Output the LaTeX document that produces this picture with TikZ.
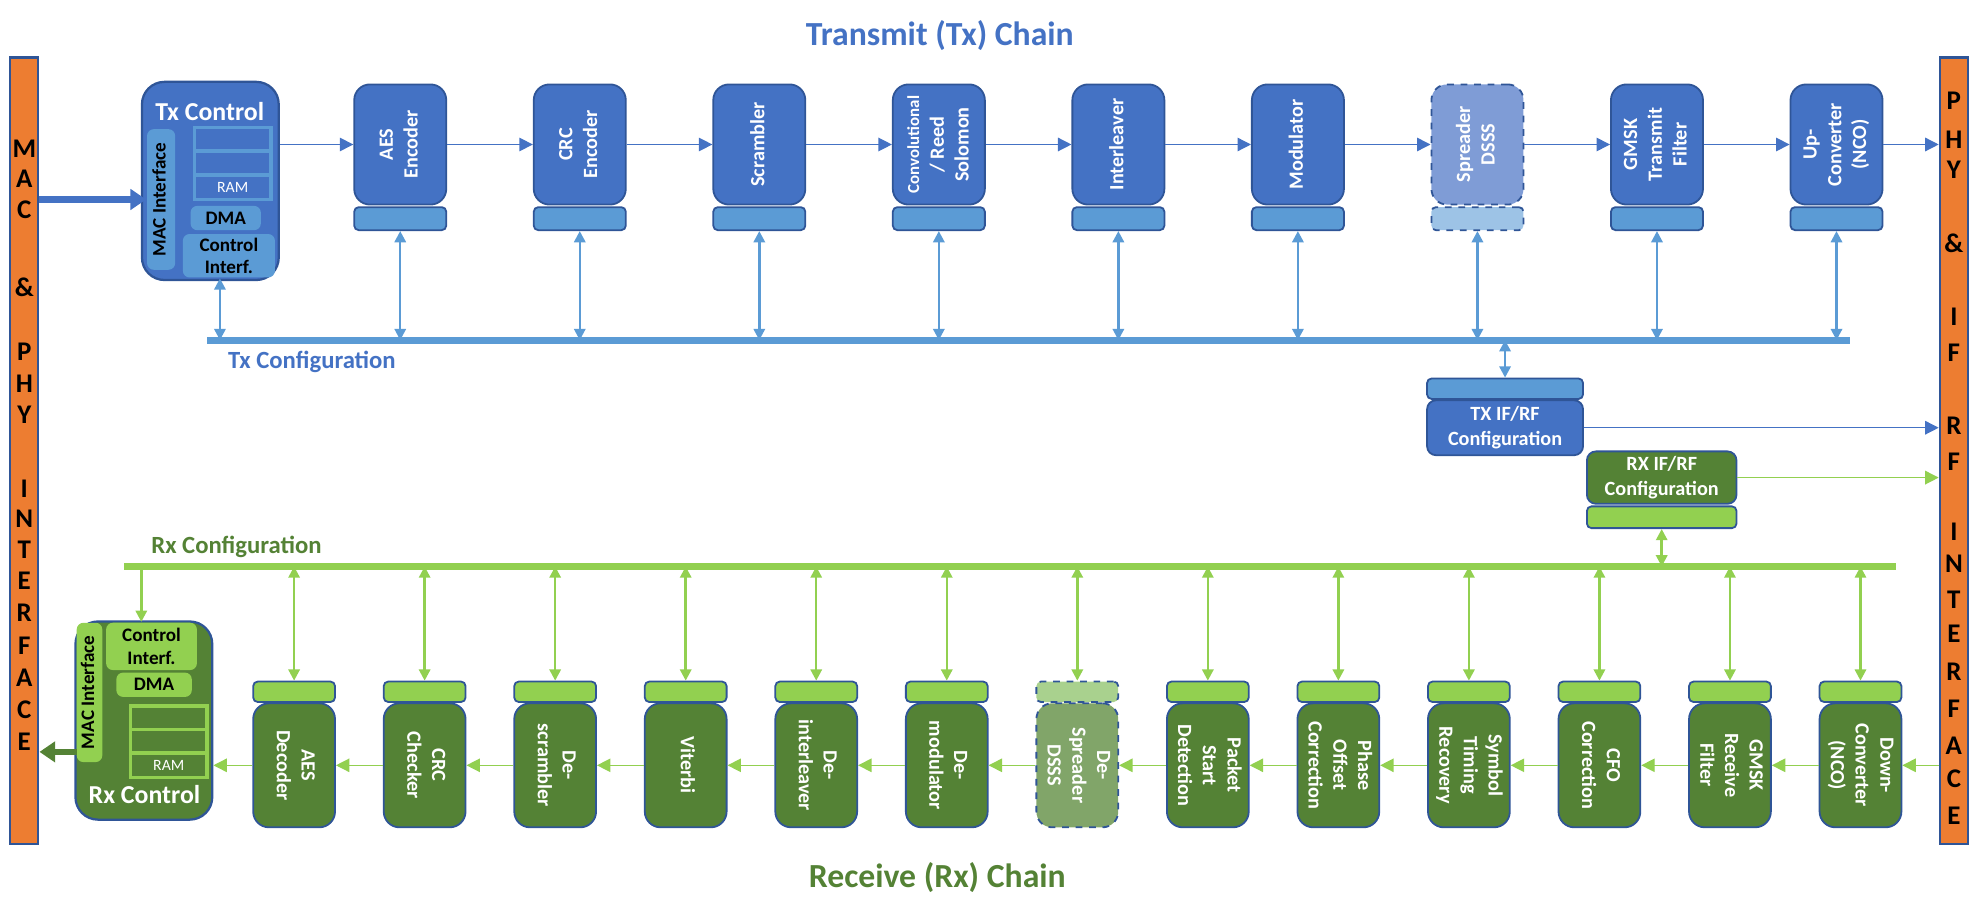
\documentclass[tikz,border=0pt]{standalone}
\usepackage{fontspec}
\usepackage{graphicx}
\setmainfont{Carlito}
\usetikzlibrary{arrows.meta,calc}

\definecolor{txblue}{RGB}{68,114,196}
\definecolor{bordblue}{RGB}{47,85,151}
\definecolor{tabblue}{RGB}{91,155,213}
\definecolor{spreadblue}{RGB}{127,156,214}
\definecolor{spreadtab}{RGB}{157,195,230}
\definecolor{dkgreen}{RGB}{84,130,53}
\definecolor{ltgreen}{RGB}{146,208,80}
\definecolor{despreadgreen}{RGB}{129,165,105}
\definecolor{despreadtab}{RGB}{169,209,142}
\definecolor{ifcorange}{RGB}{237,125,49}

% rotated multi-line labels
\newcommand{\vlabup}[1]{\rotatebox{90}{\begin{tabular}{@{}c@{}}#1\end{tabular}}}
\newcommand{\vlabdn}[1]{\rotatebox{-90}{\begin{tabular}{@{}c@{}}#1\end{tabular}}}

\tikzset{
  blkfont/.style={font=\bfseries\fontsize{9}{11}\selectfont},
  txblk/.style={draw=bordblue, fill=txblue, line width=0.8pt, rounded corners=7pt,
    minimum width=1.44cm, minimum height=1.88cm, inner sep=0pt, text=white, blkfont},
  txblkd/.style={txblk, fill=spreadblue, dashed},
  txtab/.style={draw=bordblue, fill=tabblue, line width=0.8pt, rounded corners=2pt,
    minimum width=1.44cm, minimum height=0.36cm, inner sep=0pt},
  txtabd/.style={txtab, fill=spreadtab, dashed},
  rxblk/.style={draw=bordblue, fill=dkgreen, line width=0.8pt, rounded corners=7pt,
    minimum width=1.28cm, minimum height=1.94cm, inner sep=0pt, text=white, blkfont},
  rxblkd/.style={rxblk, fill=despreadgreen, dashed},
  rxtab/.style={draw=bordblue, fill=ltgreen, line width=0.8pt, rounded corners=2pt,
    minimum width=1.28cm, minimum height=0.32cm, inner sep=0pt},
  rxtabd/.style={rxtab, fill=despreadtab, dashed},
  ifbar/.style={draw=bordblue, fill=ifcorange, line width=1pt,
    minimum width=0.44cm, minimum height=12.3cm, inner sep=0pt},
  ifletter/.style={font=\bfseries\fontsize{12}{12}\selectfont, inner sep=0pt},
  flow/.style={-{Triangle[length=6pt,width=6pt]}, line width=0.6pt},
  cfg/.style={{Triangle[length=5pt,width=5pt]}-{Triangle[length=5pt,width=5pt]}, line width=1.1pt},
  bus/.style={line width=3pt},
  bigarrow/.style={-{Triangle[length=7pt,width=9pt]}, line width=3pt},
  inner/.style={line width=0.8pt, rounded corners=3pt, inner sep=0pt,
    font=\bfseries\fontsize{8.5}{10}\selectfont, align=center},
  ramcell/.style={line width=1.5pt, minimum width=1.2cm, inner sep=0pt,
    text=white, font=\fontsize{7}{7}\selectfont},
  title/.style={font=\bfseries\fontsize{15}{18}\selectfont},
  buslabel/.style={font=\bfseries\fontsize{11}{13}\selectfont, anchor=west, inner sep=0pt}
}

\begin{document}
\begin{tikzpicture}[x=0.02cm, y=-0.02cm]

    \useasboundingbox (0,0) rectangle (1550,713);

    %% titles
    \node[title, text=txblue] (txtitle) at (735,28) {Transmit (Tx) Chain};
    \node[title, text=dkgreen] (rxtitle) at (733,686) {Receive (Rx) Chain};

    %% interface bars
    \node[ifbar] (mac) at (19,352.5) {};
    \node[ifbar] (phy) at (1528,352.5) {};

    \foreach \y/\c [count=\n] in {116/M,140/A,164/C,225/\&,275/P,300/H,324/Y,382/I,406/N,430/T,454/E,479/R,505/F,530/A,555/C,580/E}
        \node[ifletter] (macl\n) at (19,\y) {\c};

    \foreach \y/\c [count=\n] in {79/P,109/H,133/Y,190/\&,248/I,276/F,299//,333/R,361/F,416/I,441/N,469/T,496/E,525/R,554/F,583/A,609/C,638/E}
        \node[ifletter] (phyl\n) at (1528,\y) {\c};

    %% tx control
    \node[draw=bordblue, fill=txblue, line width=1pt, rounded corners=10pt,
        minimum width=2.14cm, minimum height=3.1cm] (txc) at (164.5,141.5) {};
    \node[text=white, font=\bfseries\fontsize{11.5}{13}\selectfont] (txct) at (164,87) {Tx Control};
    \node[inner, fill=tabblue, minimum width=0.44cm, minimum height=2.2cm] (txmac) at (126,156) {\vlabup{MAC Interface}};
    \node[ramcell, draw=tabblue, fill=txblue, minimum height=0.38cm] (txram1) at (182,109) {};
    \node[ramcell, draw=tabblue, fill=txblue, minimum height=0.38cm] (txram2) at (182,127.5) {};
    \node[ramcell, draw=tabblue, fill=txblue, minimum height=0.38cm] (txram3) at (182,146.5) {RAM};
    \node[inner, fill=tabblue, minimum width=1.1cm, minimum height=0.38cm] (txdma) at (176.5,170.5) {DMA};
    \node[inner, fill=tabblue, minimum width=1.44cm, minimum height=0.68cm] (txci) at (179,200) {Control\\Interf.};

    % input from MAC
    \draw[bigarrow, txblue] (mac.east |- txmac) -- (txmac.west);

    %% tx chain
    \foreach \i/\st/\tb/\txt in {1/txblk/txtab/AES\\Encoder, 2/txblk/txtab/CRC\\Encoder,
        3/txblk/txtab/Scrambler, 4/txblk/txtab/{\fontsize{7.5}{8.5}\selectfont Convolutional\\/ Reed\\Solomon},
        5/txblk/txtab/Interleaver, 6/txblk/txtab/Modulator, 7/txblkd/txtabd/Spreader\\DSSS/FHSS,
        8/txblk/txtab/GMSK\\Transmit\\Filter, 9/txblk/txtab/Up-\\Converter\\(NCO)} {
        \pgfmathsetmacro{\x}{313 + 140.4*(\i-1)}
        \node[\st] (tx\i) at (\x,113) {\vlabup{\txt}};
        \node[\tb] (txt\i) at (\x,171) {};
    }

    \draw[flow, txblue] (txc.east |- tx1) -- (tx1);
    \foreach \i [evaluate=\i as \j using int(\i+1)] in {1,...,8}
        \draw[flow, txblue] (tx\i) -- (tx\j);
    \draw[flow, txblue] (tx9) -- (tx9 -| phy.west);

    % tx configuration bus
    \coordinate (txbusL) at (162,266);
    \coordinate (txbusR) at (1447,266);
    \draw[bus, tabblue] (txbusL) -- (txbusR);
    \node[buslabel, text=txblue] (txbuslabel) at (178,283) {Tx Configuration};

    \coordinate (txctl) at ($(txci.south)+(-7,0)$);
    \draw[cfg, tabblue] (txctl) -- (txctl |- txbusL);
    \foreach \i in {1,...,9}
        \draw[cfg, tabblue] (txt\i.south) -- (txt\i.south |- txbusL);

    %% if/rf configuration
    \node[txtab, minimum width=2.44cm, minimum height=0.32cm] (tift) at (1177,304) {};
    \node[txblk, rounded corners=4pt, minimum width=2.44cm, minimum height=0.86cm, align=center] (tif) at (1177,334.5) {TX IF/RF\\Configuration};
    \draw[cfg, tabblue] (tift.north) -- (tift.north |- txbusL);
    \draw[flow, txblue] (tif.east) -- (tif.east -| phy.west);

    \node[rxblk, rounded corners=4pt, minimum width=2.34cm, minimum height=0.82cm, align=center] (rif) at (1299.5,373.5) {RX IF/RF\\Configuration};
    \node[rxtab, minimum width=2.34cm, minimum height=0.34cm] (rift) at (1299.5,404.5) {};
    \draw[flow, ltgreen] (rif.east) -- (rif.east -| phy.west);

    % rx configuration bus
    \coordinate (rxbusL) at (97,443);
    \coordinate (rxbusR) at (1483,443);
    \draw[bus, ltgreen] (rxbusL) -- (rxbusR);
    \node[buslabel, text=dkgreen] (rxbuslabel) at (118,428) {Rx Configuration};
    \draw[cfg, ltgreen] (rift.south) -- (rift.south |- rxbusL);

    %% rx control
    \node[draw=bordblue, fill=dkgreen, line width=1pt, rounded corners=10pt,
        minimum width=2.14cm, minimum height=3.1cm] (rxc) at (112.5,563.5) {};
    \node[inner, fill=ltgreen, minimum width=0.4cm, minimum height=2.18cm] (rxmac) at (70,541.5) {\vlabup{MAC Interface}};
    \node[inner, fill=ltgreen, minimum width=1.42cm, minimum height=0.74cm] (rxci) at (118.5,505.5) {Control\\Interf.};
    \node[inner, fill=ltgreen, minimum width=1.18cm, minimum height=0.38cm] (rxdma) at (120.5,535.5) {DMA};
    \node[ramcell, draw=ltgreen, fill=dkgreen, minimum height=0.38cm] (rxram1) at (132,561.5) {};
    \node[ramcell, draw=ltgreen, fill=dkgreen, minimum height=0.38cm] (rxram2) at (132,580) {};
    \node[ramcell, draw=ltgreen, fill=dkgreen, minimum height=0.38cm] (rxram3) at (132,598.5) {RAM};
    \node[text=white, font=\bfseries\fontsize{11.5}{13}\selectfont] (rxct) at (113,621) {Rx Control};

    \coordinate (rxctl) at ($(rxci.north)+(-8,0)$);
    \draw[-{Triangle[length=5pt,width=5pt]}, line width=1.1pt, ltgreen] (rxctl |- rxbusL) -- (rxctl);

    % output to MAC
    \coordinate (rxout) at (60,588);
    \draw[bigarrow, dkgreen] (rxout) -- (rxout -| mac.east);

    %% rx chain
    \foreach \i/\st/\tb/\txt in {1/rxblk/rxtab/AES\\Decoder, 2/rxblk/rxtab/CRC\\Checker,
        3/rxblk/rxtab/De-\\scrambler, 4/rxblk/rxtab/Viterbi/Reed\\Solomon\\Decoder,
        5/rxblk/rxtab/De-\\interleaver, 6/rxblk/rxtab/De-\\modulator,
        7/rxblkd/rxtabd/De-\\Spreader\\DSSS/FHSS, 8/rxblk/rxtab/Packet\\Start\\Detection,
        9/rxblk/rxtab/Phase\\Offset\\Correction, 10/rxblk/rxtab/Symbol\\Timing\\Recovery,
        11/rxblk/rxtab/CFO\\Correction, 12/rxblk/rxtab/GMSK\\Receive\\Filter,
        13/rxblk/rxtab/Down-\\Converter\\(NCO)} {
        \pgfmathsetmacro{\x}{230 + 102.08*(\i-1)}
        \node[\st] (rx\i) at (\x,598.5) {\vlabdn{\txt}};
        \node[\tb] (rxt\i) at (\x,541) {};
        \draw[cfg, ltgreen] (rxt\i.north) -- (rxt\i.north |- rxbusL);
    }

    \draw[flow, ltgreen] (rx13 -| phy.west) -- (rx13);
    \foreach \i [evaluate=\i as \j using int(\i-1)] in {13,...,2}
        \draw[flow, ltgreen] (rx\i) -- (rx\j);
    \draw[flow, ltgreen] (rx1) -- (rx1 -| rxc.east);

\end{tikzpicture}
\end{document}
